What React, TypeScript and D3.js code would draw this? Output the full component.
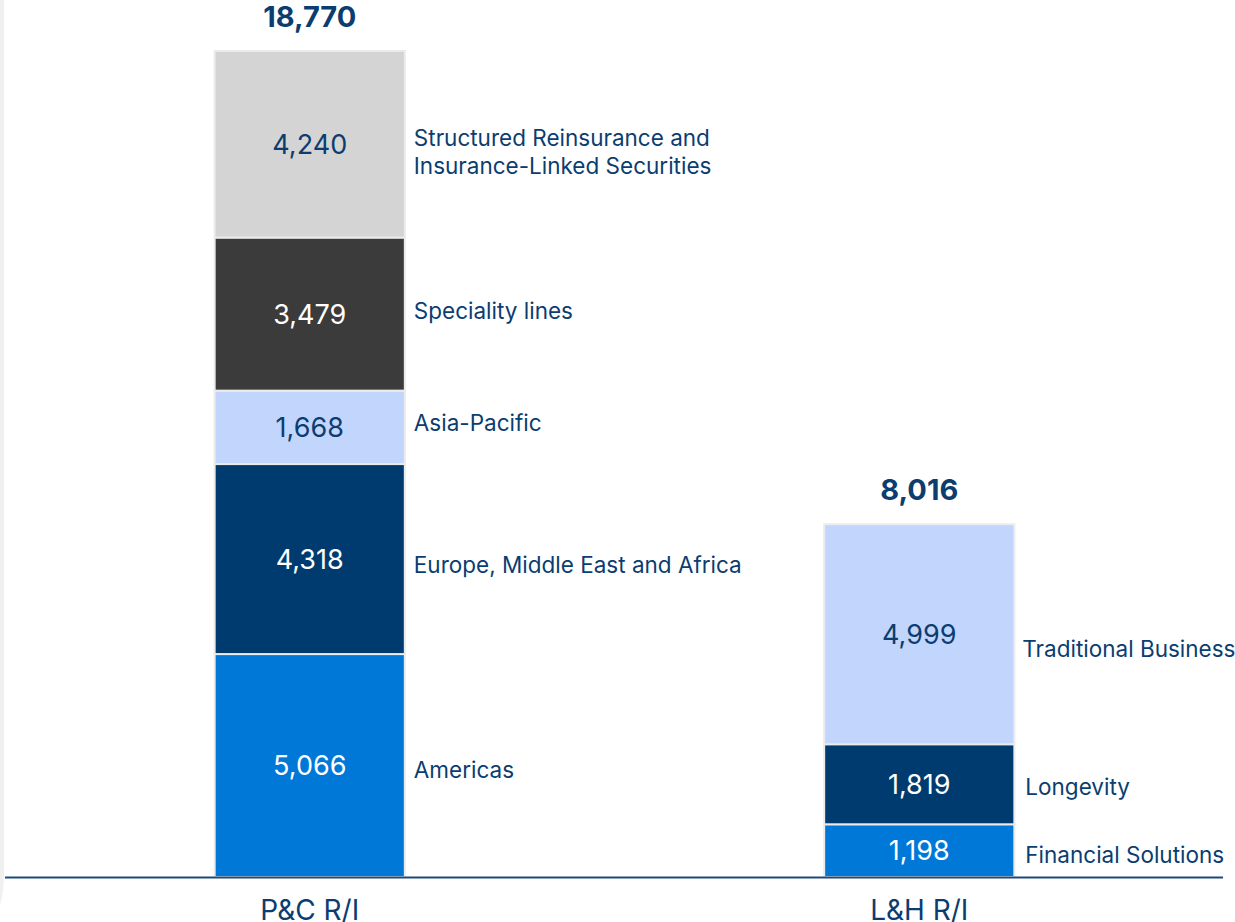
import React from "react";
import * as d3 from "d3";

const categories = ["P&C R/I", "L&H R/I"];
const totals = [18770, 8016];
const totalLabels = ["18,770", "8,016"];

// segments bottom to top
const pcSegments = ["Americas", "Europe, Middle East and Africa", "Asia-Pacific", "Speciality lines", "Structured Reinsurance and|Insurance-Linked Securities"];
const pcValues = [5066, 4318, 1668, 3479, 4240];
const lhSegments = ["Financial Solutions", "Longevity", "Traditional Business"];
const lhValues = [1198, 1819, 4999];

const pcColors = ["#0078d7", "#003b6f", "#c2d5fd", "#3b3b3b", "#d4d4d4"];
const lhColors = ["#0078d7", "#003b6f", "#c2d5fd"];
const pcTextColors = ["#ffffff", "#ffffff", "#0b3d70", "#ffffff", "#0b3d70"];
const lhTextColors = ["#ffffff", "#ffffff", "#0b3d70"];
// vertical nudges of side labels relative to segment centre (px)
const pcLabelShift = [12, 14, 4, 5, 2];
const lhLabelShift = [12, 11, 23];
const lhLabelX = [11, 11, 8];

const W = 1235;
const H = 922;
const NAVY = "#0b3d70";
const FONT = "Inter, 'Noto Sans', sans-serif";

export default function App() {
  const x = d3.scaleBand<string>().domain(categories).range([5, 1224]).paddingInner(0.688).paddingOuter(0.344);
  const y = d3.scaleLinear().domain([0, d3.max(totals) as number]).range([877, 51]);
  const fmt = d3.format(",");

  const groups = [
    { cat: categories[0], names: pcSegments, values: pcValues, colors: pcColors, tcol: pcTextColors, shift: pcLabelShift, lx: [9, 9, 9, 9, 9] },
    { cat: categories[1], names: lhSegments, values: lhValues, colors: lhColors, tcol: lhTextColors, shift: lhLabelShift, lx: lhLabelX },
  ];

  return (
    <svg width={W} height={H} style={{ position: "absolute", left: 0, top: 0, background: "#fff" }} fontFamily={FONT}>
      <path d="M0,0 L4,0 L4,872 Q4,892 0,905 Z" fill="#f0f0f0" />
      {groups.map((g, gi) => {
        const stack = d3.stack<number[]>().keys(g.values.map((_, i) => String(i)))
          ([Object.fromEntries(g.values.map((v, i) => [String(i), v])) as any]);
        const x0 = x(g.cat) as number;
        const bw = x.bandwidth();
        const cx = x0 + bw / 2;
        return (
          <g key={g.cat}>
            {stack.map((s, i) => {
              const [a, b] = s[0];
              const yTop = y(b);
              const yBot = y(a);
              const mid = (yTop + yBot) / 2;
              const lines = g.names[i].split("|");
              return (
                <g key={i}>
                  <rect x={x0} y={yTop} width={bw} height={yBot - yTop} fill={g.colors[i]} stroke="#ebebeb" strokeWidth={2} />
                  <text x={cx} y={mid} dy="0.36em" textAnchor="middle" fontSize={27} fill={g.tcol[i]}>
                    {fmt(g.values[i])}
                  </text>
                  <text x={x0 + bw + g.lx[i]} y={mid + g.shift[i]} fontSize={22.5} fill={NAVY}>
                    {lines.map((l, li) => (
                      <tspan key={li} x={x0 + bw + g.lx[i]} dy={li === 0 ? 0 : 28}>{l}</tspan>
                    ))}
                  </text>
                </g>
              );
            })}
            <text x={cx} y={y(totals[gi]) - 24} textAnchor="middle" fontSize={29} fontWeight={700} fill={NAVY}>
              {totalLabels[gi]}
            </text>
            <text x={cx} y={920} textAnchor="middle" fontSize={28} fill={NAVY}>{g.cat}</text>
          </g>
        );
      })}
      <line x1={5} x2={1223} y1={y(0) + 0.5} y2={y(0) + 0.5} stroke="#1d4a7a" strokeWidth={2} />
    </svg>
  );
}
